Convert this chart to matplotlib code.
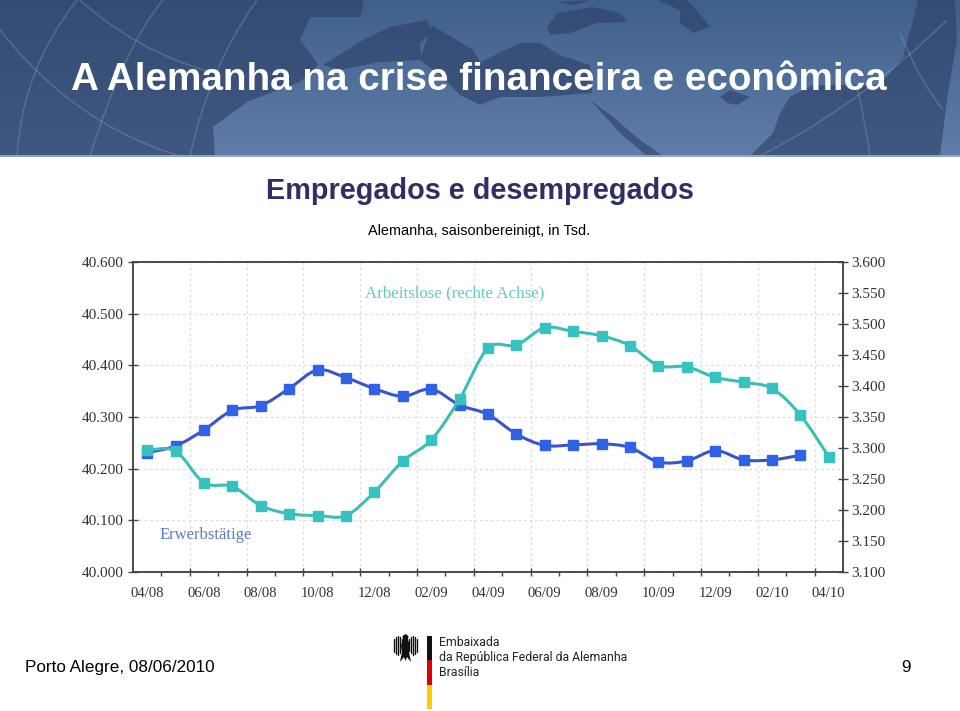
import numpy as np
import matplotlib
matplotlib.use("Agg")
import matplotlib.pyplot as plt
from matplotlib.colors import LinearSegmentedColormap
from matplotlib.patches import Polygon, Rectangle, PathPatch
from matplotlib.path import Path

# --- Data -------------------------------------------------------------------
MONTH_LABELS = ["04/08", "06/08", "08/08", "10/08", "12/08", "02/09", "04/09",
                "06/09", "08/09", "10/09", "12/09", "02/10", "04/10"]

ERWERBSTAETIGE = [40231, 40244, 40275, 40313, 40322, 40355, 40391, 40376,
                  40355, 40340, 40354, 40323, 40305, 40267, 40245, 40246,
                  40248, 40241, 40213, 40215, 40235, 40217, 40217, 40226]

ARBEITSLOSE = [3296, 3295, 3244, 3238, 3207, 3194, 3191, 3191, 3229, 3279,
               3313, 3379, 3461, 3466, 3494, 3488, 3481, 3465, 3433, 3431,
               3414, 3406, 3396, 3353, 3286]

LEFT_TICKS = [40000, 40100, 40200, 40300, 40400, 40500, 40600]
RIGHT_TICKS = [3100, 3150, 3200, 3250, 3300, 3350, 3400, 3450, 3500, 3550, 3600]

# --- Config -----------------------------------------------------------------
W, H = 960, 711
PLOT_BOX = (133, 262, 843, 572)  # left, top, right, bottom in px
SANS = "Liberation Sans"
SERIF = "Liberation Serif"

# background map shapes of the slide header, in px
SEAS = [
    [(0, 0), (363, 0), (363, 7), (360, 17), (310, 17), (300, 40), (313, 57),
     (318, 65), (300, 82), (273, 92), (247, 102), (213, 127), (215, 156), (0, 156)],
    [(323, 65), (363, 40), (390, 27), (427, 20), (432, 32), (420, 43), (421, 56),
     (432, 25), (473, 50), (480, 62), (520, 43), (540, 43), (560, 55), (590, 65),
     (592, 93), (540, 97), (500, 97), (480, 105), (460, 95), (440, 75), (420, 60),
     (380, 62), (340, 70)],
    [(547, 27), (557, 13), (593, 7), (620, 13), (627, 22), (597, 23), (570, 33),
     (550, 35)],
    [(557, 2), (590, 0), (575, 5)],
    [(657, 0), (687, 0), (697, 10), (710, 27), (693, 33), (680, 23), (680, 10)],
    [(720, 97), (730, 90), (750, 97), (737, 105), (727, 103)],
    [(590, 100), (613, 117), (640, 140), (663, 156), (647, 156), (620, 133)],
    [(750, 156), (773, 133), (780, 113), (790, 97), (813, 85), (880, 85), (903, 57),
     (913, 20), (918, 0), (955, 0), (957, 40), (947, 100), (940, 156)],
]
ARCS = [
    [(77, 0), (22, 70), (17, 156)],
    [(163, 0), (125, 45), (90, 156)],
    [(257, 0), (210, 65), (190, 156)],
    [(80, 0), (135, 50), (210, 72)],
    [(0, 30), (75, 125), (180, 156)],
    [(947, 20), (860, 105), (760, 156)],
    [(857, 87), (865, 120), (870, 156)],
    [(900, 33), (922, 85), (943, 110)],
]
# eagle of the logo, in px
EAGLE_BODY = [(405.5, 634), (408.5, 636), (408, 640), (410, 645), (409, 652),
              (411, 662), (407, 657), (405.5, 661), (404, 657), (400, 662),
              (402, 652), (401, 645), (403, 640), (402.5, 636)]
EAGLE_FEATHERS = [(3.5, 639, 651), (5.5, 637, 653), (7.5, 636, 655),
                  (9.5, 637, 654), (11.5, 639, 652)]


def draw_page(bg):
    # header band
    gradient = np.linspace(0, 1, 156).reshape(-1, 1)
    band = LinearSegmentedColormap.from_list("band", ["#40608c", "#5f7da8"])
    bg.imshow(gradient, extent=(0, W, 156, 0), aspect="auto", zorder=0, cmap=band)
    for sea in SEAS:
        bg.add_patch(Polygon(sea, closed=True, facecolor="#2c3f64", alpha=0.6,
                             edgecolor="none", zorder=1))
    for a, b, c in ARCS:
        path = Path([a, b, c], [Path.MOVETO, Path.CURVE3, Path.CURVE3])
        bg.add_patch(PathPatch(path, fill=False, edgecolor="#9fb4d0", alpha=0.28,
                               linewidth=1.1, zorder=2))
    bg.add_patch(Rectangle((0, 155), W, 1.5, facecolor="#8ea5c4",
                           edgecolor="none", zorder=3))

    # titles
    bg.text(479, 90, "A Alemanha na crise financeira e econômica", ha="center",
            va="baseline", family=SANS, weight="bold", fontsize=27.8, color="white",
            zorder=5)
    bg.text(480, 199, "Empregados e desempregados", ha="center", va="baseline",
            family=SANS, weight="bold", fontsize=20.8, color="#2f2f66", zorder=5)
    bg.text(479.5, 235, "Alemanha, saisonbereinigt, in Tsd.", ha="center",
            va="baseline", family=SANS, fontsize=10.45, color="black", zorder=5)

    # chart picture background cuts off the subtitle descenders
    bg.add_patch(Rectangle((60, 236.5), 800, 370, facecolor="white",
                           edgecolor="none", zorder=6))

    # footer
    bg.text(25, 672, "Porto Alegre, 08/06/2010", ha="left", va="baseline",
            family=SANS, fontsize=12.3, color="black")
    bg.text(911, 672, "9", ha="right", va="baseline", family=SANS,
            fontsize=12.3, color="black")

    # logo
    bg.add_patch(Polygon(EAGLE_BODY, closed=True, facecolor="#111111",
                         edgecolor="none"))
    for dx, y0, y1 in EAGLE_FEATHERS:
        for side in (-1, 1):
            bg.plot([405.5 + side * dx] * 2, [y0, y1], color="#111111",
                    linewidth=1.0, solid_capstyle="round")
    for y0, y1, col in [(636, 660, "#111111"), (660, 685, "#dd0000"),
                        (685, 709, "#ffce00")]:
        bg.add_patch(Rectangle((427, y0), 4.5, y1 - y0, facecolor=col,
                               edgecolor="none"))
    for y, line in [(646, "Embaixada"), (661, "da República Federal da Alemanha"),
                    (675.5, "Brasília")]:
        bg.text(439, y, line, ha="left", va="baseline", family="Roboto",
                fontsize=8.8, color="#222222")


def smooth_path(xs, ys):
    # soft curve through the points, like the charting tool of the original
    pts = np.column_stack([xs, ys]).astype(float)
    verts = [pts[0]]
    codes = [Path.MOVETO]
    for i in range(len(pts) - 1):
        before = pts[max(i - 1, 0)]
        after = pts[min(i + 2, len(pts) - 1)]
        verts += [pts[i] + (pts[i + 1] - before) / 6,
                  pts[i + 1] - (after - pts[i]) / 6,
                  pts[i + 1]]
        codes += [Path.CURVE4] * 3
    return Path(verts, codes)


def draw_series(ax, xs, ys, line_color, marker_color):
    ax.add_patch(PathPatch(smooth_path(xs, ys), fill=False, edgecolor=line_color,
                           linewidth=2.2))
    ax.plot(xs, ys, linestyle="none", marker="s", markersize=7.4,
            markerfacecolor=marker_color, markeredgecolor=marker_color)


def draw_chart(fig):
    left, top, right, bottom = PLOT_BOX
    ax = fig.add_axes([left / W, 1 - bottom / H, (right - left) / W, (bottom - top) / H],
                      facecolor="none")
    ax2 = ax.twinx()

    months = np.arange(len(ARBEITSLOSE))
    draw_series(ax, months[:len(ERWERBSTAETIGE)], ERWERBSTAETIGE, "#3a55cc", "#2f62e6")
    draw_series(ax2, months, ARBEITSLOSE, "#3dbdb4", "#35c2c0")

    ax.set_xlim(-0.5, len(ARBEITSLOSE) - 0.5)
    ax.set_ylim(LEFT_TICKS[0], LEFT_TICKS[-1])
    ax2.set_ylim(RIGHT_TICKS[0], RIGHT_TICKS[-1])

    fmt = lambda v: f"{v // 1000}.{v % 1000:03d}"
    ax.set_yticks(LEFT_TICKS, [fmt(v) for v in LEFT_TICKS])
    ax2.set_yticks(RIGHT_TICKS, [fmt(v) for v in RIGHT_TICKS])
    for a, pad in ((ax, 3.5), (ax2, 3.0)):
        a.tick_params(axis="y", direction="inout", length=6.5, width=1,
                      color="#444444", labelsize=11, labelcolor="#333333", pad=pad,
                      labelfontfamily=SERIF)

    # month boundaries: long every 2nd (with grid), short between
    ax.set_xticks(months[1:-1:2] + 0.5, [""] * len(months[1:-1:2]))
    ax.set_xticks(months[0:-1:2] + 0.5, minor=True)
    ax.tick_params(axis="x", which="major", direction="inout", length=6, width=1,
                   color="#444444")
    ax.tick_params(axis="x", which="minor", direction="out", length=3, width=1,
                   color="#444444")
    for i, label in enumerate(MONTH_LABELS):
        ax.text(i * 2, -0.068, label, transform=ax.get_xaxis_transform(), ha="center",
                va="center", family=SERIF, fontsize=10.6, color="#333333")

    ax.grid(True, which="major", color="#dddddd", linestyle=(0, (2.2, 2.2)),
            linewidth=0.9)
    ax.set_axisbelow(True)
    for a in (ax, ax2):
        for spine in a.spines.values():
            spine.set_color("#444444")
            spine.set_linewidth(1.1)

    ax.annotate("Arbeitslose (rechte Achse)", xy=(365 / W, 1 - 297 / H),
                xycoords="figure fraction", family=SERIF, fontsize=12.2,
                color="#62c8c2")
    ax.annotate("Erwerbstätige", xy=(160 / W, 1 - 539 / H),
                xycoords="figure fraction", family=SERIF, fontsize=12,
                color="#5b7bc8")


def main():
    fig = plt.figure(figsize=(W / 100, H / 100), dpi=100, facecolor="white")

    bg = fig.add_axes([0, 0, 1, 1])
    draw_page(bg)
    bg.set_xlim(0, W)
    bg.set_ylim(H, 0)
    bg.axis("off")

    draw_chart(fig)

    fig.savefig("out.png", dpi=100)


if __name__ == "__main__":
    main()
